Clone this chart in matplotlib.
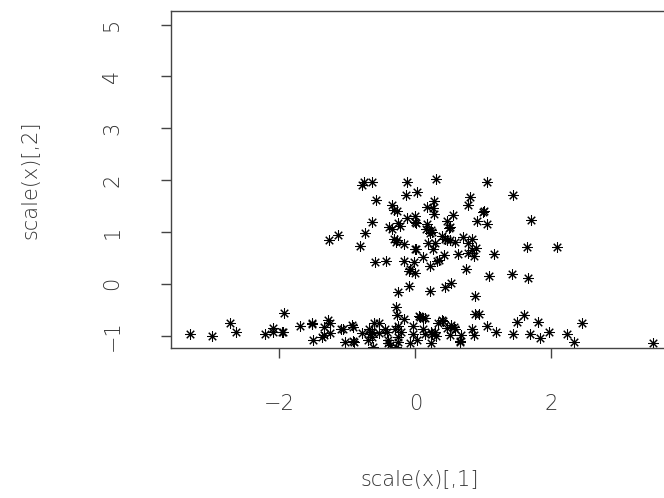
import matplotlib
matplotlib.use("Agg")
import matplotlib.pyplot as plt

# points (upper cloud, then the lower band)
x_upper = [-0.79, -0.75, -0.64, -0.12, 0.30, 1.06, -0.14, 0.02, 1.43, -0.58,
           0.80, 0.78, 0.27, 0.26, 0.27, 0.17, -0.35, -0.32, -0.27, 1.01,
           1.00, 0.55, -0.01, -0.12, 0.01, 0.00, -0.63, -0.26, -0.22, -0.38,
           -0.35, 0.17, 0.16, 0.47, 0.51, 0.49, 0.91, 1.05, 1.70, -0.74,
           -1.14, -1.27, 0.23, 0.25, 0.21, 0.39, 0.44, 0.46, 0.51, 0.58,
           0.70, 0.84, 0.78, 0.89, 0.84, -0.32, -0.27, -0.29, -0.16, 0.01,
           0.00, 0.18, 0.29, 0.26, -0.81, 1.64, 2.09, 0.63, 0.78, 0.87,
           1.15, 0.42, 0.35, 0.32, 0.12, -0.59, -0.43, -0.16, -0.02, -0.08,
           -0.09, 0.00, 0.21, 0.75, 1.09, 1.42, 1.66, -0.10, 0.44, 0.52,
           -0.26, 0.22, 0.88, -0.28, -0.27, 0.88, 0.94, 0.06, 0.14, 1.60,
           -0.16, 0.39, 1.50, 1.80, 2.45]
y_upper = [1.90, 1.96, 1.96, 1.96, 2.03, 1.97, 1.72, 1.78, 1.71, 1.62,
           1.67, 1.53, 1.59, 1.46, 1.34, 1.48, 1.52, 1.42, 1.40, 1.40,
           1.38, 1.32, 1.30, 1.27, 1.17, 1.19, 1.20, 1.17, 1.11, 1.10,
           1.05, 1.16, 1.06, 1.21, 1.10, 1.08, 1.21, 1.15, 1.24, 0.98,
           0.94, 0.85, 1.03, 1.01, 0.99, 0.92, 0.87, 0.84, 0.85, 0.80,
           0.90, 0.86, 0.78, 0.69, 0.65, 0.87, 0.84, 0.81, 0.76, 0.68,
           0.67, 0.78, 0.79, 0.67, 0.73, 0.72, 0.72, 0.57, 0.60, 0.53,
           0.57, 0.55, 0.47, 0.44, 0.51, 0.42, 0.44, 0.44, 0.42, 0.29,
           0.24, 0.21, 0.35, 0.29, 0.15, 0.19, 0.12, -0.04, -0.07, 0.01,
           -0.15, -0.14, -0.23, -0.44, -0.60, -0.59, -0.59, -0.62, -0.65, -0.60,
           -0.68, -0.70, -0.73, -0.74, -0.76]

x_lower = [-3.31, -2.99, -2.73, -2.63, -2.21, -2.09, -2.10, -1.94, -1.96, -1.93,
           -1.69, -1.52, -1.52, -1.35, -1.28, -1.26, -1.25, -1.35, -1.37, -1.50,
           -1.07, -1.09, -0.93, -0.91, -1.03, -0.92, -0.90, -0.79, -0.68, -0.67,
           -0.61, -0.54, -0.69, -0.63, -0.62, -0.63, -0.53, -0.45, -0.42, -0.40,
           -0.40, -0.37, -0.30, -0.26, -0.26, -0.25, -0.29, -0.21, -0.04, -0.04,
           -0.08, 0.02, 0.07, 0.12, 0.12, 0.14, 0.23, 0.25, 0.23, 0.31,
           0.29, 0.34, 0.40, 0.46, 0.53, 0.57, 0.59, 0.51, 0.65, 0.67,
           0.66, 0.83, 0.87, 1.05, 1.19, 1.44, 1.68, 1.83, 1.97, 2.23,
           2.34, 3.49]
y_lower = [-0.97, -1.01, -0.76, -0.93, -0.97, -0.85, -0.92, -0.93, -0.92, -0.56,
           -0.81, -0.76, -0.78, -0.83, -0.70, -0.76, -0.95, -0.99, -1.03, -1.08,
           -0.87, -0.88, -0.80, -0.83, -1.12, -1.10, -1.12, -0.94, -0.88, -0.97,
           -0.76, -0.76, -1.08, -1.02, -1.21, -0.93, -0.94, -0.87, -0.92, -1.08,
           -1.15, -1.18, -0.88, -0.81, -1.02, -1.12, -1.22, -0.92, -0.81, -0.96,
           -1.15, -1.08, -0.63, -0.65, -0.87, -0.96, -0.92, -0.97, -1.15, -1.01,
           -0.93, -0.76, -0.72, -0.85, -0.79, -0.83, -0.87, -0.99, -1.10, -0.99,
           -1.13, -0.87, -0.98, -0.82, -0.93, -0.97, -0.96, -1.05, -0.92, -0.97,
           -1.12, -1.15]

x_ticks = [-2, 0, 2]
y_ticks = [-1, 0, 1, 2, 3, 4, 5]

plt.rcParams['font.family'] = ['DejaVu Sans']

fig = plt.figure(figsize=(6.64, 4.98), dpi=100)
# axes run off the right edge like in the reference
ax = fig.add_axes([0.2575, 0.3012, 0.75, 0.6767])

ax.plot(x_upper + x_lower, y_upper + y_lower, linestyle='none',
        marker=(8, 2, 0), markersize=7.5, markeredgewidth=0.75, color='black')

ax.set_xlim(-3.593, 3.73)
ax.set_ylim(-1.237, 5.263)
ax.set_xticks(x_ticks)
ax.set_yticks(y_ticks)
ax.set_xticklabels(['\u22122', '0', '2'])
ax.set_yticklabels(['\u22121', '0', '1', '2', '3', '4', '5'],
                   rotation=90, va='center')

for s in ax.spines.values():
    s.set_color('#444444')
    s.set_linewidth(1.0)

ax.tick_params(axis='both', direction='out', length=7, width=1,
               color='#444444', labelsize=15, labelcolor='#333333')
ax.tick_params(axis='x', pad=26)
ax.tick_params(axis='y', pad=28)
for lab in ax.get_xticklabels() + ax.get_yticklabels():
    lab.set_fontweight('ultralight')

ax.set_xlabel('scale(x)[,1]', fontsize=15, color='#333333', fontweight='ultralight')
ax.set_ylabel('scale(x)[,2]', fontsize=15, color='#333333', fontweight='ultralight')
ax.xaxis.set_label_coords(0.4985, -0.392)
ax.xaxis.label.set_va('center')
ax.yaxis.set_label_coords(-0.283, 0.5)
ax.yaxis.label.set_va('center')

fig.savefig('out.png', dpi=100)
